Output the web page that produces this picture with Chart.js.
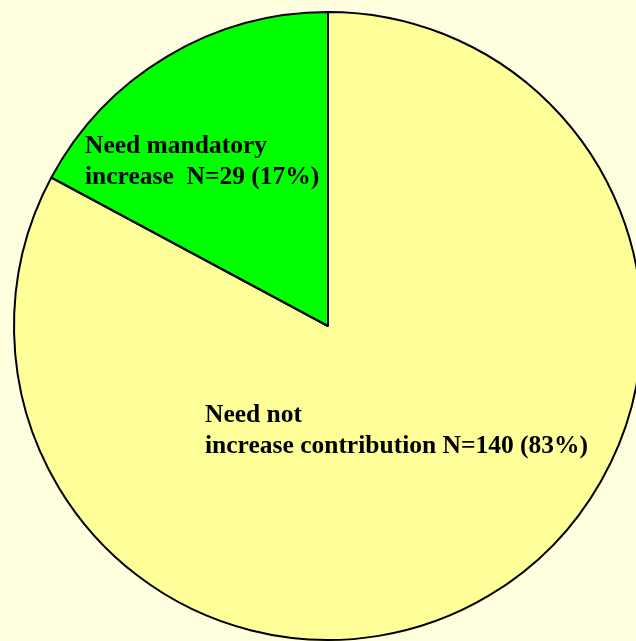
<!DOCTYPE html>
<html>
<head>
<meta charset="utf-8">
<script src="https://cdn.jsdelivr.net/npm/chart.js@4/dist/chart.umd.min.js"></script>
<style>
    html, body { margin: 0; padding: 0; background: #FFFFE0; }
    #wrap { position: relative; width: 636px; height: 641px; overflow: hidden; background: #FFFFE0; }
    #chart { position: absolute; left: 0; top: 0; }
</style>
</head>
<body>
<div id="wrap"><canvas id="chart" width="680" height="680"></canvas></div>
<script>
// Slice data: drawn clockwise from 12 o'clock
const categories = ['Need not increase contribution', 'Need mandatory increase'];
const counts = [140, 29];
const percents = [83, 17];
const sliceColors = ['#FFFF99', '#00FF00'];

// Text lines for each slice label
const labelLines = [
    ['Need not', 'increase contribution N=' + counts[0] + ' (' + percents[0] + '%)'],
    ['Need mandatory', 'increase  N=' + counts[1] + ' (' + percents[1] + '%)']
];

// Draws the multi-line labels, anchored relative to the pie center
const sliceLabels = {
    id: 'sliceLabels',
    afterDraw(chart, args, opts) {
        const arc = chart.getDatasetMeta(0).data[0];
        if (!arc) return;
        const ctx = chart.ctx;
        ctx.save();
        ctx.fillStyle = '#000';
        ctx.font = 'bold 25.5px "Liberation Serif", "Times New Roman", serif';
        ctx.textAlign = 'left';
        ctx.textBaseline = 'alphabetic';
        opts.anchors.forEach((a, i) => {
            labelLines[i].forEach((line, j) => {
                ctx.fillText(line, arc.x + a.dx, arc.y + a.dy + j * opts.lineHeight);
            });
        });
        ctx.restore();
    }
};

const ctx = document.getElementById('chart').getContext('2d');
const chart = new Chart(ctx, {
    type: 'pie',
    data: {
        labels: categories,
        datasets: [{
            data: counts,
            backgroundColor: sliceColors,
            borderColor: '#000',
            borderWidth: 2
        }]
    },
    options: {
        responsive: false,
        animation: false,
        layout: {
            padding: { left: 13, top: 11, right: 37, bottom: 39 }
        },
        plugins: {
            legend: { display: false },
            tooltip: { enabled: false },
            sliceLabels: {
                lineHeight: 31,
                anchors: [
                    { dx: -123, dy: 96 },
                    { dx: -243, dy: -173 }
                ]
            }
        }
    },
    plugins: [sliceLabels]
});
</script>
</body>
</html>
